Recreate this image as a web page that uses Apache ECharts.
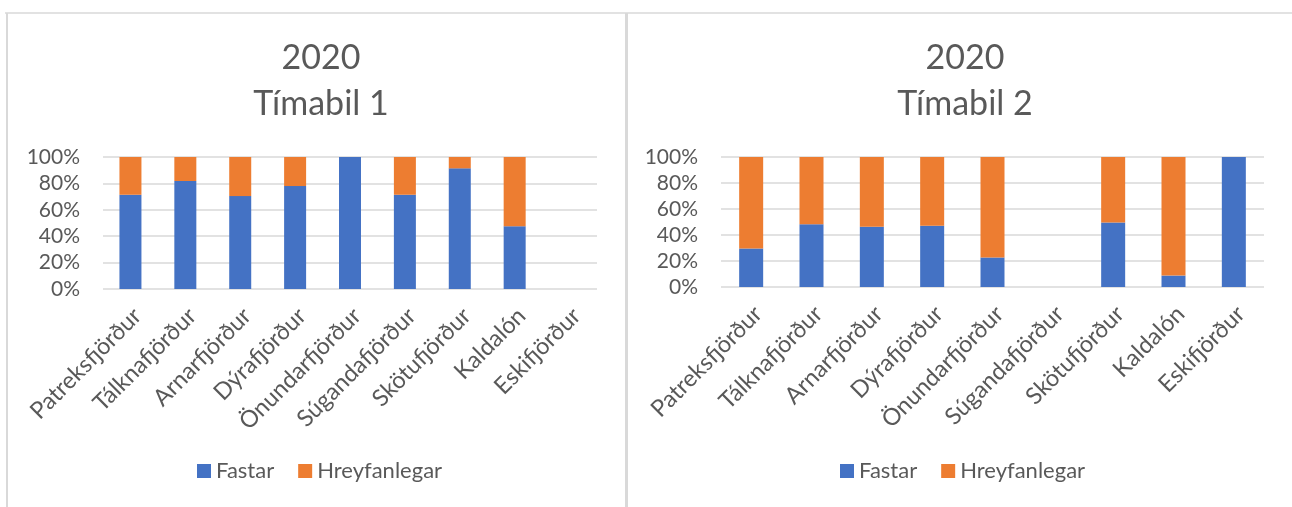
<!DOCTYPE html>
<html>
<head>
<meta charset="utf-8">
<script src="https://cdn.jsdelivr.net/npm/echarts@6/dist/echarts.min.js"></script>
<style>
  html, body { margin: 0; padding: 0; background: #ffffff; }
  #chart { width: 1292px; height: 507px; }
</style>
</head>
<body>
<div id="chart"></div>
<script>
// Firðir (sameiginlegir flokkar beggja myndanna)
const categories = ['Patreksfjörður', 'Tálknafjörður', 'Arnarfjörður', 'Dýrafjörður',
  'Önundarfjörður', 'Súgandafjörður', 'Skötufjörður', 'Kaldalón', 'Eskifjörður'];

// Hlutfall (%) – Tímabil 1
const fastarT1        = [71.4, 81.8, 70.4, 78.0, 100, 71.4, 91.4, 47.6, null];
const hreyfanlegarT1  = [28.6, 18.2, 29.6, 22.0, 0,   28.6, 8.6,  52.4, null];

// Hlutfall (%) – Tímabil 2
const fastarT2        = [29.6, 48.2, 46.4, 47.2, 22.7, null, 49.7, 8.8,  100];
const hreyfanlegarT2  = [70.4, 51.8, 53.6, 52.8, 77.3, null, 50.3, 91.2, 0];

const yTicks = [0, 20, 40, 60, 80, 100];
const titles = ['2020\nTímabil 1', '2020\nTímabil 2'];
const seriesNames = ['Fastar', 'Hreyfanlegar'];

const FONT = 'Lato, "Open Sans", sans-serif';
const TXT = '#595959';
const GRIDC = '#d9d9d9';
const BLUE = '#4472C4';
const ORANGE = '#ED7D31';

const chart = echarts.init(document.getElementById('chart'), null, { renderer: 'canvas' });

const grids = [
  { left: 103, top: 157, width: 494, height: 132 },
  { left: 721, top: 157, width: 543, height: 130 }
];
const barWidths = [22, 24];
const centers = [316, 960];
const legendCenters = [320, 963];

function xAxis(i) {
  return {
    type: 'category', gridIndex: i, data: categories,
    axisLine: { show: false }, axisTick: { show: false },
    axisLabel: {
      interval: 0, rotate: 45, margin: 16, verticalAlign: 'top', lineHeight: 20,
      color: TXT, fontSize: 23.5, fontFamily: FONT
    }
  };
}
function yAxis(i) {
  return {
    type: 'value', gridIndex: i, min: yTicks[0], max: yTicks[yTicks.length - 1], interval: 20,
    axisLine: { show: false }, axisTick: { show: false },
    splitLine: { lineStyle: { color: GRIDC, width: 1.5 } },
    axisLabel: { formatter: '{value}%', margin: 23, color: TXT, fontSize: 21, fontFamily: FONT }
  };
}
function bar(name, data, i, color, stack) {
  return {
    name, type: 'bar', xAxisIndex: i, yAxisIndex: i, stack,
    data, barWidth: barWidths[i], itemStyle: { color },
    emphasis: { disabled: true }
  };
}

const option = {
  backgroundColor: '#ffffff',
  animation: false,
  title: titles.map((t, i) => ({
    text: t, left: centers[i], top: 30, textAlign: 'center',
    textStyle: { color: TXT, fontSize: 34, fontWeight: 'normal', fontFamily: FONT, lineHeight: 46 }
  })),
  legend: legendCenters.map(c => ({
    data: seriesNames, left: c, top: 455,
    icon: 'rect', itemWidth: 14, itemHeight: 14, itemGap: 24,
    textStyle: { color: TXT, fontSize: 22, fontFamily: FONT }
  })),
  grid: grids,
  xAxis: [xAxis(0), xAxis(1)],
  yAxis: [yAxis(0), yAxis(1)],
  series: [
    bar('Fastar', fastarT1, 0, BLUE, 't1'),
    bar('Hreyfanlegar', hreyfanlegarT1, 0, ORANGE, 't1'),
    bar('Fastar', fastarT2, 1, BLUE, 't2'),
    bar('Hreyfanlegar', hreyfanlegarT2, 1, ORANGE, 't2')
  ],
  graphic: [
    { type: 'line', shape: { x1: 5, y1: 13, x2: 1292, y2: 13 }, style: { stroke: GRIDC, lineWidth: 1.5 }, silent: true },
    { type: 'line', shape: { x1: 7, y1: 13, x2: 7, y2: 507 }, style: { stroke: GRIDC, lineWidth: 2 }, silent: true },
    { type: 'line', shape: { x1: 626.5, y1: 13, x2: 626.5, y2: 507 }, style: { stroke: GRIDC, lineWidth: 3 }, silent: true }
  ]
};

chart.setOption(option);

// Center each legend on its panel after layout
function centerLegends() {
  const model = chart.getModel();
  const updates = legendCenters.map((c, i) => {
    const lg = model.getComponent('legend', i);
    const view = lg && chart.getViewOfComponentModel(lg);
    if (view && view.group) {
      const r = view.group.getBoundingRect();
      return { left: Math.round(c - r.width / 2) };
    }
    return {};
  });
  chart.setOption({ legend: updates });
}
centerLegends();
</script>
</body>
</html>
